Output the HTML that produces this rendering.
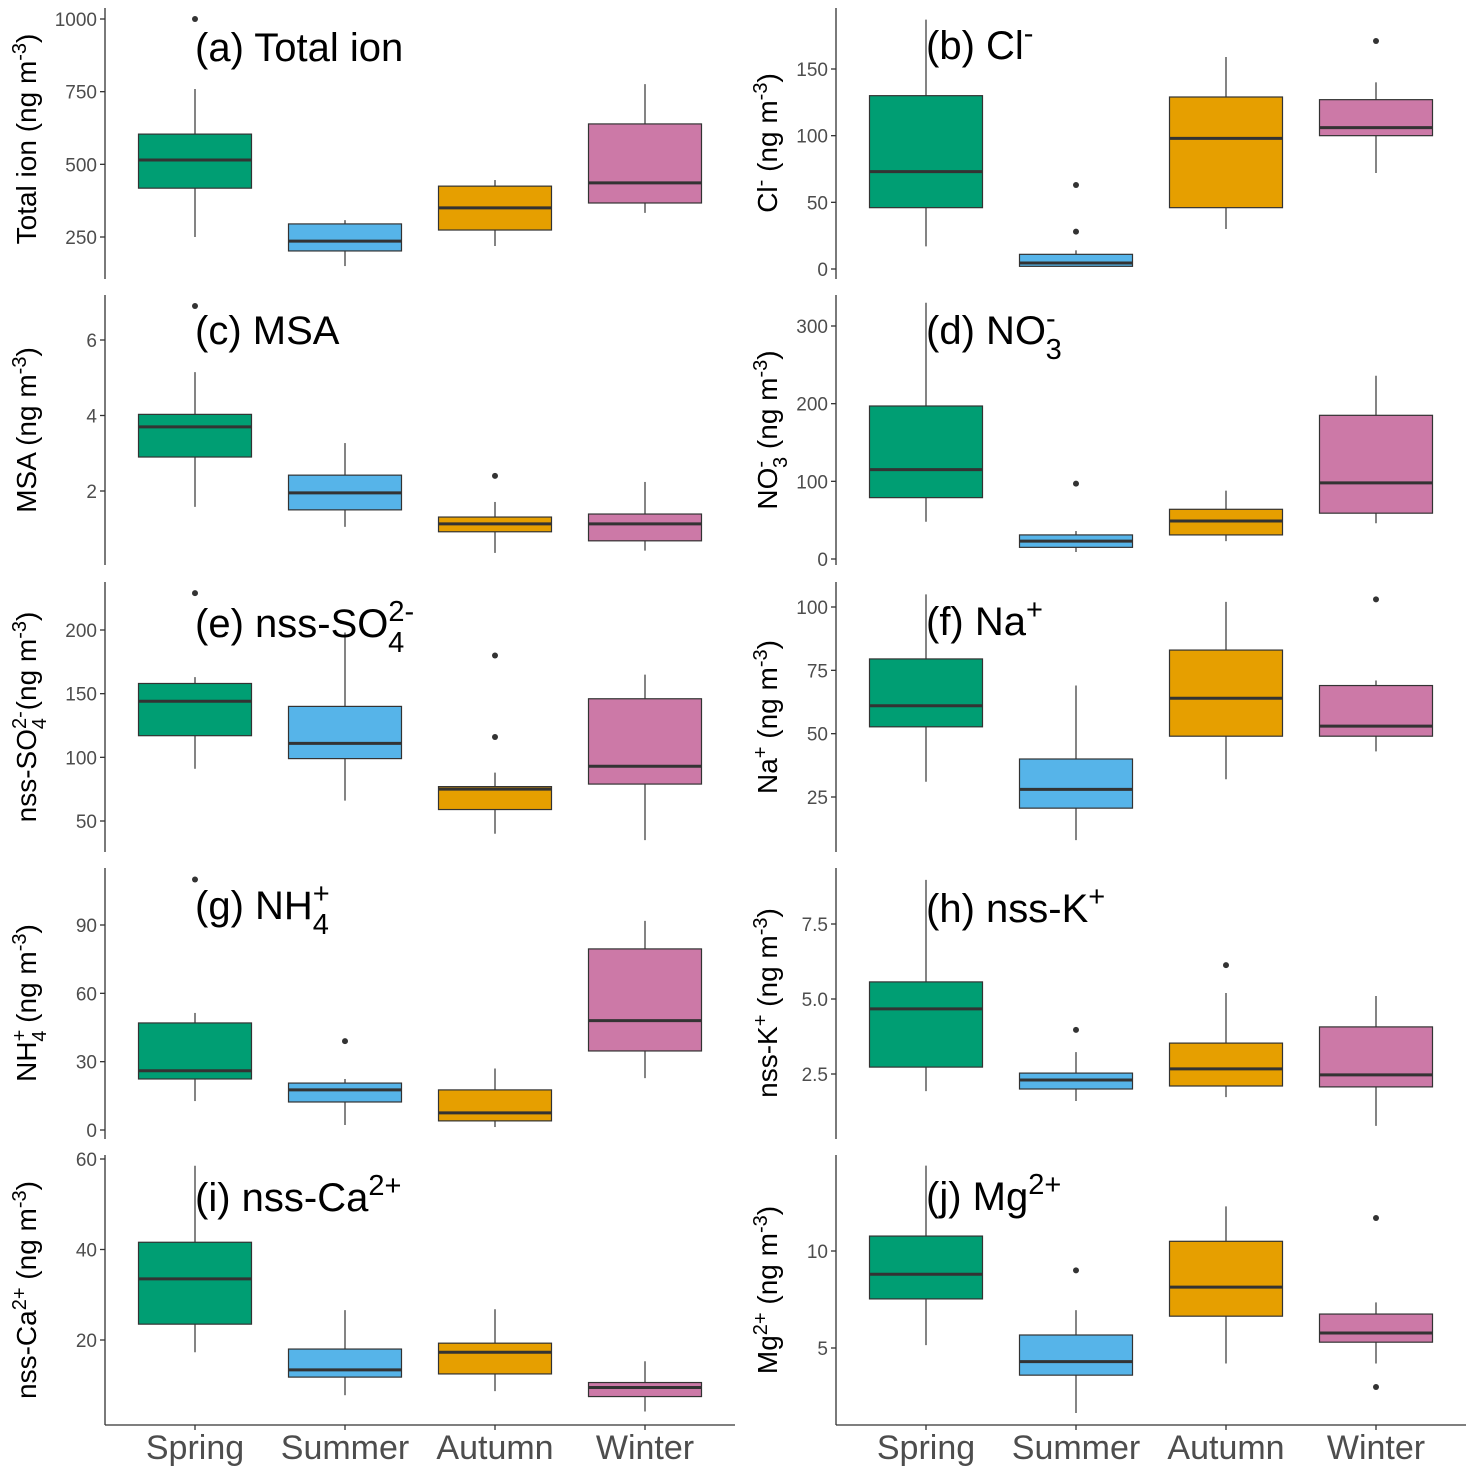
<!DOCTYPE html>
<html><head><meta charset="utf-8"><style>
html,body{margin:0;padding:0;background:#fff}
svg{display:block;font-family:"Liberation Sans",Arial,sans-serif}
</style></head><body>
<svg id="chart" width="1474" height="1474" viewBox="0 0 1474 1474" xmlns="http://www.w3.org/2000/svg">
<g id="marks"></g>
<g font-size="40" fill="#000">
<text x="195" y="61">(a) Total ion</text>
<text x="926" y="59">(b) Cl<tspan dy="-16" font-size="29">-</tspan></text>
<text x="195" y="344">(c) MSA</text>
<text x="926" y="344">(d) NO<tspan dy="-16" font-size="29">-</tspan><tspan dx="-10" dy="31" font-size="29">3</tspan></text>
<text x="195" y="637">(e) nss-SO<tspan dy="-16" font-size="29">2-</tspan><tspan dx="-26" dy="31" font-size="29">4</tspan></text>
<text x="926" y="635">(f) Na<tspan dy="-16" font-size="29">+</tspan></text>
<text x="195" y="919">(g) NH<tspan dy="-16" font-size="29">+</tspan><tspan dx="-17" dy="31" font-size="29">4</tspan></text>
<text x="926" y="922">(h) nss-K<tspan dy="-16" font-size="29">+</tspan></text>
<text x="195" y="1211">(i) nss-Ca<tspan dy="-16" font-size="29">2+</tspan></text>
<text x="926" y="1210">(j) Mg<tspan dy="-16" font-size="29">2+</tspan></text>
</g>
<g font-size="28" fill="#000" text-anchor="middle">
<text transform="translate(36,139) rotate(-90)">Total ion (ng m<tspan dy="-10" font-size="20">-3</tspan><tspan dy="10">)</tspan></text>
<text transform="translate(777,143) rotate(-90)">Cl<tspan dy="-10" font-size="20">-</tspan><tspan dy="10"> (ng m</tspan><tspan dy="-10" font-size="20">-3</tspan><tspan dy="10">)</tspan></text>
<text transform="translate(36,430) rotate(-90)">MSA (ng m<tspan dy="-10" font-size="20">-3</tspan><tspan dy="10">)</tspan></text>
<text transform="translate(777,430) rotate(-90)">NO<tspan dy="-10" font-size="20">-</tspan><tspan dx="-7" dy="20" font-size="20">3</tspan><tspan dy="-10"> (ng m</tspan><tspan dy="-10" font-size="20">-3</tspan><tspan dy="10">)</tspan></text>
<text transform="translate(36,717) rotate(-90)">nss-SO<tspan dy="-10" font-size="20">2-</tspan><tspan dx="-18" dy="20" font-size="20">4</tspan><tspan dy="-10"> (ng m</tspan><tspan dy="-10" font-size="20">-3</tspan><tspan dy="10">)</tspan></text>
<text transform="translate(777,717) rotate(-90)">Na<tspan dy="-10" font-size="20">+</tspan><tspan dy="10"> (ng m</tspan><tspan dy="-10" font-size="20">-3</tspan><tspan dy="10">)</tspan></text>
<text transform="translate(36,1003) rotate(-90)">NH<tspan dy="-10" font-size="20">+</tspan><tspan dx="-12" dy="20" font-size="20">4</tspan><tspan dy="-10"> (ng m</tspan><tspan dy="-10" font-size="20">-3</tspan><tspan dy="10">)</tspan></text>
<text transform="translate(777,1003) rotate(-90)">nss-K<tspan dy="-10" font-size="20">+</tspan><tspan dy="10"> (ng m</tspan><tspan dy="-10" font-size="20">-3</tspan><tspan dy="10">)</tspan></text>
<text transform="translate(36,1290) rotate(-90)">nss-Ca<tspan dy="-10" font-size="20">2+</tspan><tspan dy="10"> (ng m</tspan><tspan dy="-10" font-size="20">-3</tspan><tspan dy="10">)</tspan></text>
<text transform="translate(777,1290) rotate(-90)">Mg<tspan dy="-10" font-size="20">2+</tspan><tspan dy="10"> (ng m</tspan><tspan dy="-10" font-size="20">-3</tspan><tspan dy="10">)</tspan></text>
</g>
</svg>
<script>
const seasons = ['Spring', 'Summer', 'Autumn', 'Winter'];
const seasonColors = ['#009E73', '#56B4E9', '#E69F00', '#CC79A7'];
const panelIds = ['a', 'b', 'c', 'd', 'e', 'f', 'g', 'h', 'i', 'j'];
const ticks = {a:[250,500,750,1000], b:[0,50,100,150], c:[2,4,6], d:[0,100,200,300], e:[50,100,150,200], f:[25,50,75,100], g:[0,30,60,90], h:[2.5,5.0,7.5], i:[20,40,60], j:[5,10]};
const tickLabels = {a:['250','500','750','1000'], b:['0','50','100','150'], c:['2','4','6'], d:['0','100','200','300'], e:['50','100','150','200'], f:['25','50','75','100'], g:['0','30','60','90'], h:['2.5','5.0','7.5'], i:['20','40','60'], j:['5','10']};
const whiskerLow = {a:[250,150,219,333], b:[17,2,30,72], c:[1.58,1.05,0.36,0.42], d:[48,9,23,46], e:[91,66,40,35], f:[31,8,32,43], g:[12.7,2.2,1.3,22.8], h:[1.93,1.6,1.73,0.77], i:[17.3,7.8,8.7,4.2], j:[5.15,1.65,4.2,4.2]};
const quart1 = {a:[418,202,274,367], b:[46,2,46,100], c:[2.9,1.5,0.92,0.68], d:[79,15,31,59], e:[117,99,59,79], f:[52.7,20.6,49,49], g:[22.4,12.3,4,34.7], h:[2.73,2.0,2.1,2.07], i:[23.5,11.8,12.5,7.5], j:[7.53,3.6,6.64,5.3]};
const medians = {a:[515,236,350,436], b:[73,4.5,98,106], c:[3.7,1.95,1.13,1.13], d:[115,23,49,98], e:[144,111,75,93], f:[61,28,64,53], g:[26,17.6,7.5,48], h:[4.67,2.3,2.67,2.47], i:[33.5,13.4,17.3,9.5], j:[8.8,4.3,8.14,5.77]};
const quart3 = {a:[604,295,425,639], b:[130,11,129,127], c:[4.03,2.42,1.31,1.39], d:[197,31,64,185], e:[158,140,77,146], f:[79.5,40,83,69], g:[47,20.6,17.6,79.5], h:[5.57,2.53,3.53,4.07], i:[41.6,18,19.3,10.6], j:[10.77,5.67,10.5,6.75]};
const whiskerHigh = {a:[759,308,446,776], b:[187,14,159,140], c:[5.15,3.27,1.71,2.24], d:[330,36,88,236], e:[163,198,88,165], f:[105,69,102,71], g:[51.4,22.4,27,91.8], h:[8.97,3.23,5.2,5.1], i:[58.5,26.6,26.8,15.3], j:[14.4,6.95,12.3,7.35]};
const outliers = {a:[[1000],[],[],[]], b:[[],[63,28],[],[171]], c:[[6.9],[],[2.4],[]], d:[[],[97],[],[]], e:[[229],[],[180,116],[]], f:[[],[],[],[103]], g:[[110],[39],[],[]], h:[[],[3.97],[6.13],[]], i:[[],[],[],[]], j:[[],[9.0],[],[11.7,2.99]]};
// layout: calibration (value1, pixelY1, value2, pixelY2)
const calib = {a:[250,237,1000,19], b:[0,269,150,69], c:[2,491,6,340], d:[0,559,300,326], e:[50,821,200,630], f:[25,797,100,607], g:[0,1130,90,925], h:[2.5,1074,7.5,924], i:[20,1340,60,1159], j:[5,1348,10,1251]};
const rowTop = [8, 295, 582, 868, 1155];
const rowBot = [279, 565, 852, 1139, 1425];

const NS = 'http://www.w3.org/2000/svg';
const root = document.getElementById('marks');
function mk(tag, attrs, parent) {
  const e = document.createElementNS(NS, tag);
  for (const k in attrs) e.setAttribute(k, attrs[k]);
  (parent || root).appendChild(e);
  return e;
}
panelIds.forEach((p, pi) => {
  const col = pi % 2, row = Math.floor(pi / 2);
  const axisX = col === 0 ? 105 : 836;
  const x0 = col === 0 ? 195 : 926;
  const c = calib[p];
  const y = v => c[1] + (v - c[0]) * (c[3] - c[1]) / (c[2] - c[0]);
  const xPos = i => x0 + 150 * i;
  const g = mk('g', {});
  
  
  const ax = mk('line', {x1: axisX, x2: axisX, y1: rowTop[row], y2: rowBot[row], stroke: '#333', 'stroke-width': 1.3}, g);
  
  
  ticks[p].forEach((t, ti) => {
    const ty = y(t);
    const tk = mk('line', {x1: axisX - 5, x2: axisX, y1: ty, y2: ty, stroke: '#333', 'stroke-width': 1.3}, g);
    
    
    const tl = mk('text', {x: axisX - 8, y: ty + 7, 'text-anchor': 'end', 'font-size': 19, fill: '#4d4d4d'}, g);
    tl.textContent = tickLabels[p][ti];
    
    
  });
  seasons.forEach((s, i) => {
    const cx = xPos(i);
    const w = mk('line', {x1: cx, x2: cx, y1: y(whiskerLow[p][i]), y2: y(whiskerHigh[p][i]), stroke: '#333', 'stroke-width': 1.2}, g);
    
    
    const yq3 = y(quart3[p][i]), yq1 = y(quart1[p][i]);
    const b = mk('rect', {x: cx - 56.5, y: yq3, width: 113, height: yq1 - yq3, fill: seasonColors[i], stroke: '#333', 'stroke-width': 1.2}, g);
    
    
    const ym = y(medians[p][i]);
    const m = mk('line', {x1: cx - 56.5, x2: cx + 56.5, y1: ym, y2: ym, stroke: '#333', 'stroke-width': 3}, g);
    
    
    outliers[p][i].forEach(o => {
      const d = mk('circle', {cx: cx, cy: y(o), r: 3, fill: '#333'}, g);
      
      
    });
    if (row === 4) {
      const xt = mk('line', {x1: cx, x2: cx, y1: 1425, y2: 1430, stroke: '#333', 'stroke-width': 1.3}, g);
      
      
      const xl = mk('text', {x: cx, y: 1459, 'text-anchor': 'middle', 'font-size': 34, fill: '#4d4d4d'}, g);
      xl.textContent = s;
      
      
    }
  });
  if (row === 4) {
    const xa = mk('line', {x1: axisX, x2: axisX + 630, y1: 1425, y2: 1425, stroke: '#333', 'stroke-width': 1.3}, g);
    
    
  }
});
</script>
</body></html>
